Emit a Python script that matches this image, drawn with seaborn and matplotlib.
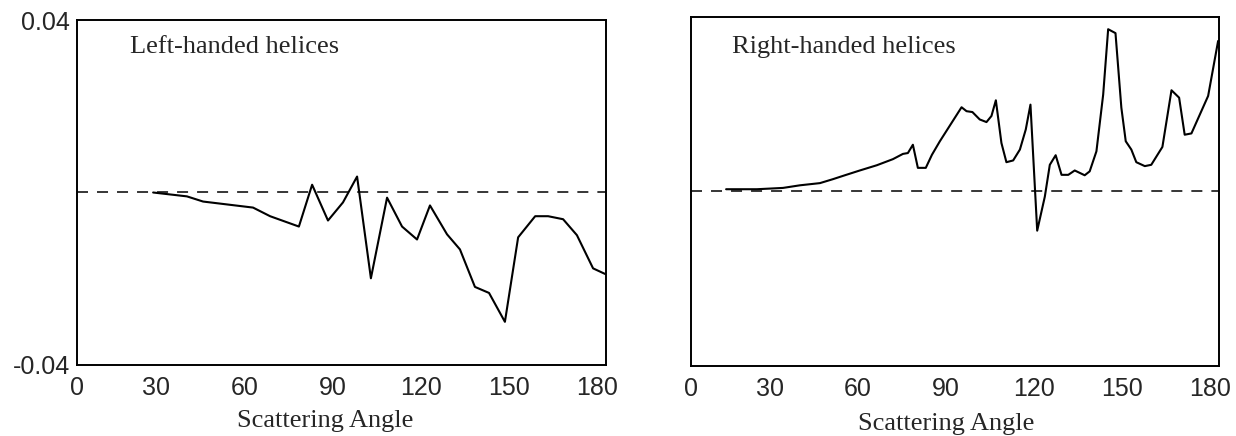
import matplotlib
matplotlib.use("Agg")
import matplotlib.pyplot as plt
import matplotlib.transforms as mtransforms
import seaborn as sns
import numpy as np

# ---- data ----
left_angle = [25.9, 37.4, 42.9, 59.9, 65.7, 75.5, 80.0, 85.4, 90.5, 95.3, 100.0,
              105.5, 110.6, 115.7, 120.1, 125.9, 130.3, 135.4, 140.2, 145.6,
              150.1, 155.9, 160.3, 165.4, 170.1, 175.6, 179.7]
left_value = [0.0, -0.0009, -0.0021, -0.0035, -0.0055, -0.0079, 0.0018, -0.0065,
              -0.0023, 0.0037, -0.0199, -0.0012, -0.0079, -0.0109, -0.0030,
              -0.0097, -0.0132, -0.0219, -0.0233, -0.0300, -0.0104, -0.0055,
              -0.0055, -0.0062, -0.0099, -0.0176, -0.0189]

right_angle = [12.0, 22.5, 31.4, 37.2, 44.0, 48.4, 52.5, 57.6, 63.4, 68.9, 72.3,
               74.0, 75.7, 77.4, 80.1, 82.2, 84.9, 92.3, 94.0, 96.0, 98.5, 100.8,
               102.5, 104.0, 105.9, 107.6, 109.9, 112.2, 114.2, 115.8, 118.1,
               120.7, 122.4, 124.4, 126.4, 128.7, 130.9, 134.3, 136.0, 138.3,
               140.6, 142.3, 144.8, 146.8, 148.3, 150.2, 151.9, 154.8, 157.0,
               160.8, 163.9, 166.5, 168.4, 170.7, 176.4, 179.8]
right_value = [0.0005, 0.0005, 0.0008, 0.0014, 0.0019, 0.0028, 0.0037, 0.0048,
               0.0060, 0.0074, 0.0086, 0.0088, 0.0107, 0.0054, 0.0054, 0.0084,
               0.0115, 0.0193, 0.0184, 0.0182, 0.0165, 0.0159, 0.0173, 0.0209,
               0.0111, 0.0067, 0.0071, 0.0096, 0.0142, 0.0199, -0.0090, -0.0012,
               0.0061, 0.0083, 0.0038, 0.0038, 0.0048, 0.0037, 0.0046, 0.0092,
               0.0222, 0.0372, 0.0363, 0.0192, 0.0115, 0.0096, 0.0067, 0.0058,
               0.0061, 0.0102, 0.0232, 0.0215, 0.0130, 0.0133, 0.0219, 0.0345]

x_ticks = [0, 30, 60, 90, 120, 150, 180]
x_tick_labels = ["0", "30", "60", "90", "120", "150", "180"]
y_ticks = [-0.04, 0.04]
y_tick_labels = ["-0.04", "0.04"]
panel_titles = ["Left-handed helices", "Right-handed helices"]
x_label = "Scattering Angle"

# ---- style ----
sns.set_style("white")
plt.rcParams["font.family"] = ["Liberation Sans", "DejaVu Sans"]

fig = plt.figure(figsize=(12.36, 4.36), dpi=100)
ax_l = fig.add_axes([0.0623, 0.163, 0.428, 0.791])
ax_r = fig.add_axes([0.559, 0.161, 0.427, 0.800])

panels = [
    (ax_l, left_angle, left_value, panel_titles[0], 0.10, 0.922, 0.47, -0.13),
    (ax_r, right_angle, right_value, panel_titles[1], 0.078, 0.914, 0.483, -0.135),
]

serif = ["Liberation Serif", "DejaVu Serif"]
shift = mtransforms.ScaledTranslation(-9 / 100, 0, fig.dpi_scale_trans)

for ax, xs, ys, title, tx, ty, lx, ly in panels:
    ax.axhline(0, color="black", lw=1.1, ls=(0, (7.2, 5.9)), zorder=1)
    sns.lineplot(x=xs, y=ys, ax=ax, color="black", lw=1.5, sort=False,
                 estimator=None, zorder=2)
    ax.set_xlim(0, 180)
    ax.set_ylim(-0.04, 0.04)
    ax.set_xticks(x_ticks)
    ax.set_xticklabels(x_tick_labels, fontsize=18)
    ax.tick_params(axis="x", length=0, pad=8)
    ax.tick_params(axis="y", length=0, pad=5)
    for i, lab in enumerate(ax.get_xticklabels()):
        if i > 0:
            lab.set_transform(lab.get_transform() + shift)
    for sp in ax.spines.values():
        sp.set_color("black")
        sp.set_linewidth(1.4)
    ax.set_xlabel(x_label, family=serif, fontsize=19)
    ax.xaxis.set_label_coords(lx, ly)
    ax.text(tx, ty, title, transform=ax.transAxes, ha="left", va="center",
            family=serif, fontsize=19)

ax_l.set_yticks(y_ticks)
ax_l.set_yticklabels(y_tick_labels, fontsize=18)
ax_r.set_yticks([])

fig.savefig("out.png", dpi=100, facecolor="white")
